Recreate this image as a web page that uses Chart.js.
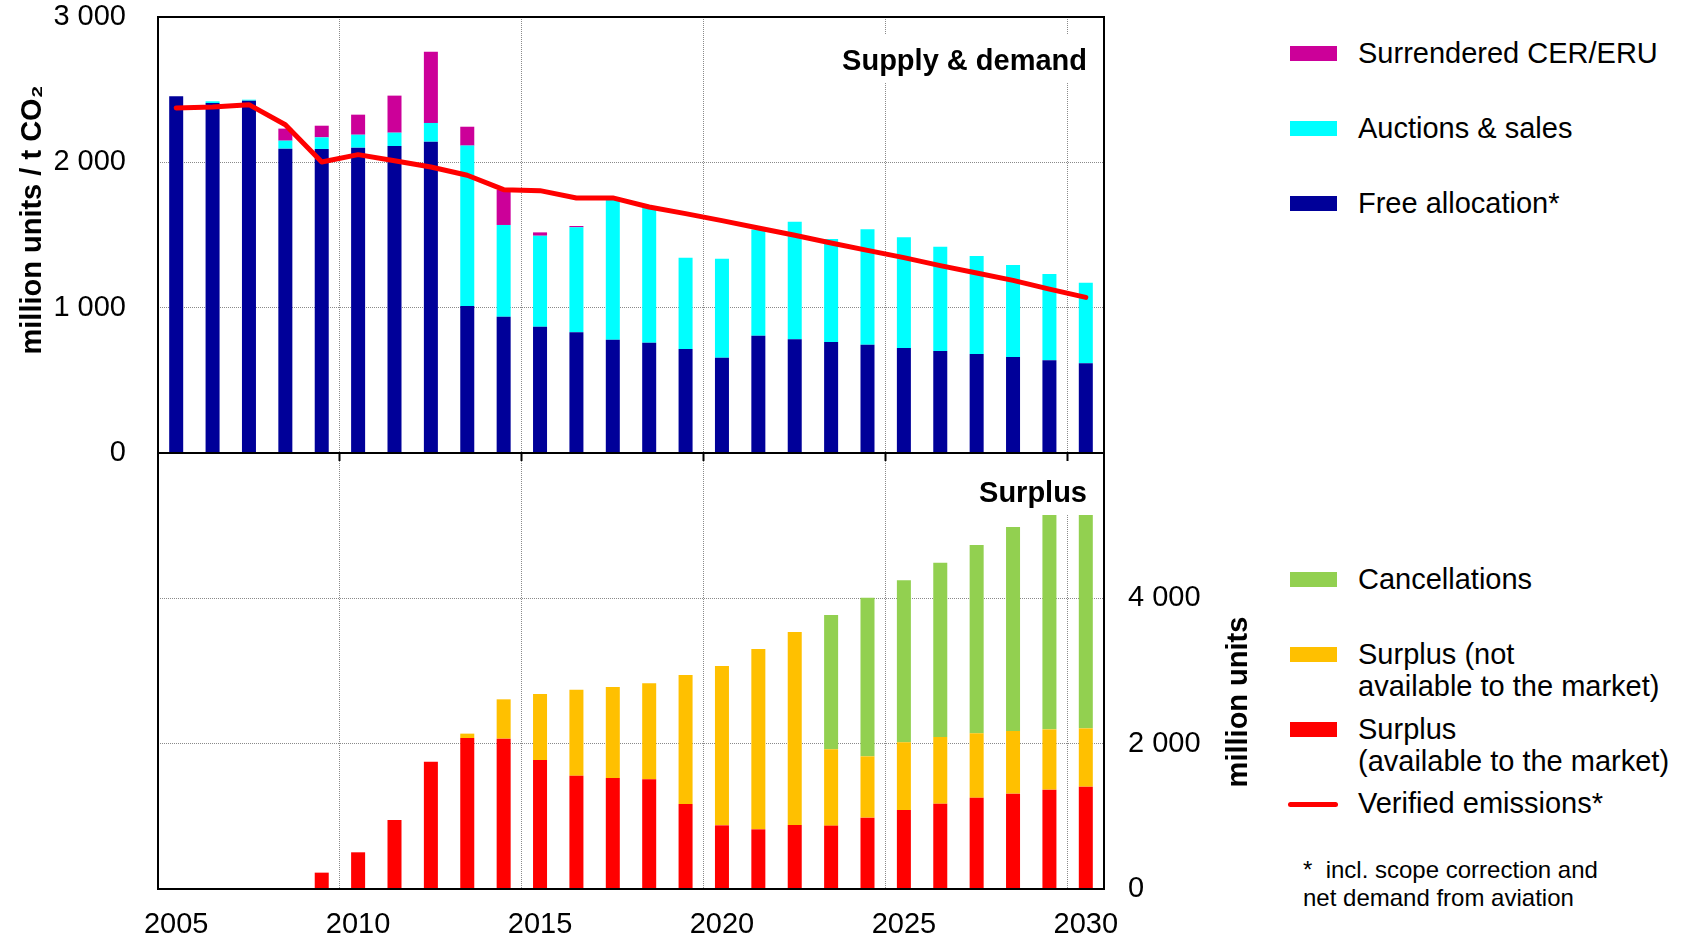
<!DOCTYPE html>
<html>
<head>
<meta charset="utf-8">
<title>EU ETS supply, demand and surplus</title>
<script src="https://cdn.jsdelivr.net/npm/chart.js@4.4.0/dist/chart.umd.min.js"></script>
<style>
  html, body { margin: 0; padding: 0; background: #fff; }
  #wrap { position: relative; width: 1682px; height: 938px; overflow: hidden; font-family: 'Liberation Sans', Arial, sans-serif; color: #000; }
  #top { position: absolute; left: 0; top: 0; z-index: 2; }
  #bottom { position: absolute; left: 0; top: 438px; z-index: 1; }
  .sw { position: absolute; left: 1290px; width: 47px; height: 15px; }
  .ln { position: absolute; left: 1288px; width: 50px; height: 5px; border-radius: 3px; }
  .lab { position: absolute; left: 1358px; font-size: 29px; line-height: 32.7px; white-space: nowrap; }
  .note { position: absolute; left: 1303px; top: 856px; font-size: 24px; line-height: 28.4px; white-space: pre; }
</style>
</head>
<body>
<div id="wrap">
  <canvas id="bottom" width="1270" height="500"></canvas>
  <canvas id="top" width="1110" height="470"></canvas>
  <div id="legend"></div>
  <div class="note">*  incl. scope correction and
net demand from aviation</div>
</div>
<script>
// categories
const years = ['2005', '2006', '2007', '2008', '2009', '2010', '2011', '2012', '2013', '2014',
  '2015', '2016', '2017', '2018', '2019', '2020', '2021', '2022', '2023', '2024',
  '2025', '2026', '2027', '2028', '2029', '2030'];
const shownYears = ['2005', '2010', '2015', '2020', '2025', '2030'];

// supply & demand (million units)
const freeAllocation = [2454, 2408, 2424, 2094, 2092, 2101, 2112, 2142, 1011, 938,
  869, 830, 780, 759, 716, 656, 807, 782, 764, 745,
  722, 702, 681, 661, 638, 617];
const auctionsSales = [0, 12, 7, 55, 80, 89, 92, 129, 1104, 631,
  626, 723, 963, 938, 628, 681, 730, 810, 708, 794,
  762, 718, 675, 633, 594, 555];
const surrenderedCerEru = [0, 0, 0, 83, 80, 138, 255, 490, 130, 241,
  23, 9, 0, 0, 0, 0, 0, 0, 0, 0,
  0, 0, 0, 0, 0, 0];
const verifiedEmissions = [2374, 2381, 2397, 2259, 2002, 2053, 2011, 1968, 1911, 1812,
  1805, 1755, 1755, 1693, 1647, 1599, 1548, 1498, 1445, 1394,
  1344, 1289, 1239, 1188, 1128, 1071];

// surplus (million units)
const surplusAvailable = [0, 0, 0, -35, 225, 505, 950, 1752, 2078, 2069,
  1775, 1560, 1528, 1509, 1170, 876, 821, 881, 872, 982,
  1087, 1174, 1257, 1312, 1367, 1408];
const surplusNotAvailable = [0, 0, 0, 0, 0, 0, 0, 0, 60, 541,
  908, 1183, 1252, 1321, 1775, 2193, 2482, 2656, 1050, 844,
  931, 918, 885, 862, 830, 803];
const cancellations = [0, 0, 0, 0, 0, 0, 0, 0, 0, 0,
  0, 0, 0, 0, 0, 0, 0, 0, 1849, 2183,
  2230, 2399, 2592, 2808, 3033, 3259];

const FONT = "'Liberation Sans', Arial, Helvetica, sans-serif";
Chart.defaults.font.family = FONT;
Chart.defaults.font.size = 29;
Chart.defaults.font.lineHeight = 1;
Chart.defaults.color = '#000';

const GRID = '#8a8a8a';
const spaced = v => String(v).replace(/\B(?=(\d{3})+(?!\d))/g, ' ');
const every5 = ctx => ctx.index > 0 && ctx.index % 5 === 0;

// white-boxed panel title, frame round the plot area, rotated axis title
const panelPlugin = {
  id: 'panel',
  afterDatasetsDraw(chart, args, opts) {
    const { ctx, chartArea: a } = chart;
    ctx.save();
    if (opts.title) {
      const t = opts.title;
      ctx.fillStyle = '#fff';
      ctx.fillRect(a.right - t.boxWidth, a.top + t.boxTop, t.boxWidth - 1, t.boxHeight);
      ctx.font = 'bold 29px ' + FONT;
      ctx.fillStyle = '#000';
      ctx.textAlign = 'right';
      ctx.textBaseline = 'alphabetic';
      ctx.fillText(t.text, a.right - 17, a.top + t.baseline);
    }
    ctx.strokeStyle = '#000';
    ctx.lineWidth = 2;
    ctx.strokeRect(a.left, a.top, a.right - a.left, a.bottom - a.top);
    ctx.restore();
  },
  afterDraw(chart, args, opts) {
    if (!opts.axisTitle) return;
    const { ctx } = chart;
    const t = opts.axisTitle;
    ctx.save();
    ctx.translate(t.x, t.y);
    ctx.rotate(-Math.PI / 2);
    ctx.font = 'bold 29px ' + FONT;
    ctx.fillStyle = '#000';
    ctx.textAlign = 'center';
    ctx.textBaseline = 'alphabetic';
    ctx.fillText(t.text, 0, 0);
    ctx.restore();
  }
};

const topChart = new Chart(document.getElementById('top'), {
  type: 'bar',
  data: {
    labels: years,
    datasets: [
      {
        type: 'line',
        label: 'Verified emissions*',
        data: verifiedEmissions,
        borderColor: '#ff0000',
        backgroundColor: '#ff0000',
        borderWidth: 5,
        pointRadius: 0,
        tension: 0,
        borderCapStyle: 'round',
        borderJoinStyle: 'round',
        stack: 'emissions',
        order: 0,
      },
      { label: 'Free allocation*', data: freeAllocation, backgroundColor: '#000099', stack: 'supply', order: 1 },
      { label: 'Auctions & sales', data: auctionsSales, backgroundColor: '#00ffff', stack: 'supply', order: 1 },
      { label: 'Surrendered CER/ERU', data: surrenderedCerEru, backgroundColor: '#cc0099', stack: 'supply', order: 1 },
    ],
  },
  options: {
    responsive: false,
    animation: false,
    layout: { padding: { top: 17, right: 6, left: 0, bottom: 0 } },
    datasets: { bar: { barPercentage: 0.385, categoryPercentage: 1 } },
    plugins: {
      legend: { display: false },
      tooltip: { enabled: false },
      panel: {
        title: { text: 'Supply & demand', boxWidth: 275, boxTop: 18, boxHeight: 48, baseline: 52.5 },
        axisTitle: { text: 'million units / t CO₂', x: 41, y: 220 },
      },
    },
    scales: {
      x: {
        stacked: true,
        offset: true,
        ticks: { display: false },
        grid: {
          offset: true,
          color: ctx => every5(ctx) ? GRID : 'transparent',
          lineWidth: 1,
          drawTicks: true,
          tickLength: 8,
          tickWidth: 2,
          tickColor: ctx => every5(ctx) ? '#000' : 'transparent',
          tickBorderDash: [],
        },
        border: { display: false, dash: [1, 1] },
        afterFit: s => { s.height = 17; },
      },
      y: {
        stacked: true,
        min: 0,
        max: 3000,
        ticks: { stepSize: 1000, padding: 0, callback: v => spaced(v) },
        grid: {
          color: ctx => (ctx.tick && ctx.tick.value > 0 && ctx.tick.value < 3000) ? GRID : 'transparent',
          drawTicks: true,
          tickLength: 32,
          tickColor: 'transparent',
        },
        border: { display: false, dash: [1, 1] },
        afterFit: s => { s.width = 158; },
      },
    },
  },
  plugins: [panelPlugin],
});

const bottomChart = new Chart(document.getElementById('bottom'), {
  type: 'bar',
  data: {
    labels: years,
    datasets: [
      { label: 'Surplus (available to the market)', data: surplusAvailable, backgroundColor: '#ff0000' },
      { label: 'Surplus (not available to the market)', data: surplusNotAvailable, backgroundColor: '#ffc000' },
      { label: 'Cancellations', data: cancellations, backgroundColor: '#92d050' },
    ],
  },
  options: {
    responsive: false,
    animation: false,
    layout: { padding: { top: 15, left: 158, right: 0, bottom: 0 } },
    datasets: { bar: { barPercentage: 0.385, categoryPercentage: 1 } },
    plugins: {
      legend: { display: false },
      tooltip: { enabled: false },
      panel: {
        title: { text: 'Surplus', boxWidth: 134, boxTop: 2, boxHeight: 60, baseline: 48.7 },
        axisTitle: { text: 'million units', x: 1247, y: 264 },
      },
    },
    scales: {
      x: {
        stacked: true,
        offset: true,
        ticks: {
          autoSkip: false,
          maxRotation: 0,
          padding: 21,
          callback: function (v) {
            const label = this.getLabelForValue(v);
            return shownYears.includes(label) ? label : '';
          },
        },
        grid: {
          offset: true,
          color: ctx => every5(ctx) ? GRID : 'transparent',
          lineWidth: 1,
          drawTicks: false,
        },
        border: { display: false, dash: [1, 1] },
        afterFit: s => { s.height = 49; },
      },
      y: {
        position: 'right',
        stacked: true,
        min: 0,
        max: 6000,
        ticks: { stepSize: 2000, padding: 0, callback: v => spaced(v) },
        afterBuildTicks: s => { s.ticks = s.ticks.filter(t => t.value < 6000); },
        grid: {
          color: ctx => (ctx.tick && ctx.tick.value > 0) ? GRID : 'transparent',
          drawTicks: true,
          tickLength: 24,
          tickColor: 'transparent',
        },
        border: { display: false, dash: [1, 1] },
        afterFit: s => { s.width = 166; },
      },
    },
  },
  plugins: [panelPlugin],
});

// legend built from the chart datasets
const legendItems = [
  { ds: topChart.data.datasets[3], cy: 53.6 },
  { ds: topChart.data.datasets[2], cy: 128.7 },
  { ds: topChart.data.datasets[1], cy: 203.8 },
  { ds: bottomChart.data.datasets[2], cy: 579.5 },
  { ds: bottomChart.data.datasets[1], cy: 654.5, lines: ['Surplus (not', 'available to the market)'] },
  { ds: bottomChart.data.datasets[0], cy: 729.5, lines: ['Surplus', '(available to the market)'] },
  { ds: topChart.data.datasets[0], cy: 804, isLine: true },
];

const legendBox = document.getElementById('legend');
legendItems.forEach(item => {
  const mark = document.createElement('div');
  if (item.isLine) {
    mark.className = 'ln';
    mark.style.top = (item.cy - 2.5) + 'px';
    mark.style.background = item.ds.borderColor;
  } else {
    mark.className = 'sw';
    mark.style.top = (item.cy - 7.5) + 'px';
    mark.style.background = item.ds.backgroundColor;
  }
  legendBox.appendChild(mark);

  const text = document.createElement('div');
  text.className = 'lab';
  text.style.top = (item.cy - 16.9) + 'px';
  (item.lines || [item.ds.label]).forEach((line, i) => {
    if (i > 0) text.appendChild(document.createElement('br'));
    text.appendChild(document.createTextNode(line));
  });
  legendBox.appendChild(text);
});
</script>
</body>
</html>
